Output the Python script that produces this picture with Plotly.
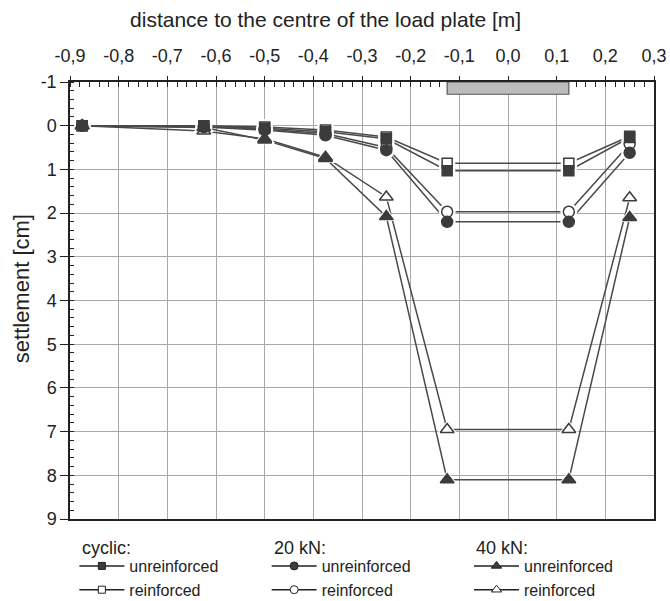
import plotly.graph_objects as go

# ---- data ----
distance = [-0.875, -0.625, -0.5, -0.375, -0.25, -0.125, 0.125, 0.25]
cyclic_unreinforced = [0.0, 0.02, 0.06, 0.14, 0.30, 1.03, 1.03, 0.27]
cyclic_reinforced = [0.0, 0.0, 0.03, 0.10, 0.26, 0.86, 0.86, 0.24]
kn20_unreinforced = [0.0, 0.03, 0.10, 0.22, 0.56, 2.20, 2.20, 0.62]
kn20_reinforced = [0.0, 0.02, 0.08, 0.18, 0.50, 1.97, 1.97, 0.42]
kn40_unreinforced = [0.0, 0.04, 0.33, 0.75, 2.08, 8.10, 8.10, 2.10]
kn40_reinforced = [0.0, 0.12, 0.30, 0.72, 1.63, 6.95, 6.95, 1.65]

x_ticks = [-0.9, -0.8, -0.7, -0.6, -0.5, -0.4, -0.3, -0.2, -0.1, 0.0, 0.1, 0.2, 0.3]
x_ticktext = ["-0,9", "-0,8", "-0,7", "-0,6", "-0,5", "-0,4", "-0,3", "-0,2", "-0,1", "0,0", "0,1", "0,2", "0,3"]
y_ticks = [-1, 0, 1, 2, 3, 4, 5, 6, 7, 8, 9]
y_ticktext = ["-1", "0", "1", "2", "3", "4", "5", "6", "7", "8", "9"]
group_titles = ["cyclic:", "20 kN:", "40 kN:"]
plate_x = [-0.125, 0.125]
plate_y = [-1.0, -0.72]

DARK = "#3c3c3c"
LINE = "#4a4a4a"
TXT = "#222"
FONT = "Liberation Sans, Arial, sans-serif"

series = [
    ("unreinforced", cyclic_unreinforced, "square", DARK, 10, "legend"),
    ("reinforced", cyclic_reinforced, "square", "white", 10, "legend"),
    ("unreinforced", kn20_unreinforced, "circle", DARK, 11, "legend2"),
    ("reinforced", kn20_reinforced, "circle", "white", 11, "legend2"),
    ("unreinforced", kn40_unreinforced, "triangle-up", DARK, 12, "legend3"),
    ("reinforced", kn40_reinforced, "triangle-up", "white", 12, "legend3"),
]
# draw open markers first, filled ones on top
draw_order = [s for s in series if s[3] == "white"] + [s for s in series if s[3] != "white"]

fig = go.Figure()

# pass 1: connecting lines
for name, vals, sym, fill, size, lg in series:
    fig.add_trace(go.Scatter(x=distance, y=vals, mode="lines",
                             line=dict(color=LINE, width=1.5),
                             showlegend=False, hoverinfo="skip"))
# pass 2: white halos
for name, vals, sym, fill, size, lg in series:
    fig.add_trace(go.Scatter(x=distance, y=vals, mode="markers",
                             marker=dict(symbol=sym, size=size + 6, color="white",
                                         line=dict(width=0)),
                             showlegend=False, hoverinfo="skip"))
# pass 3: markers
for name, vals, sym, fill, size, lg in draw_order:
    fig.add_trace(go.Scatter(x=distance, y=vals, mode="markers",
                             marker=dict(symbol=sym, size=size, color=fill,
                                         line=dict(color=DARK, width=1.5)),
                             showlegend=False))
# legend entries
for name, vals, sym, fill, size, lg in series:
    fig.add_trace(go.Scatter(x=[None], y=[None], mode="lines+markers", name=name,
                             legend=lg,
                             line=dict(color=TXT, width=1.5),
                             marker=dict(symbol=sym, size=size - 3, color=fill,
                                         line=dict(color=TXT, width=1))))

# load plate
fig.add_shape(type="rect", xref="x", yref="y",
              x0=plate_x[0], x1=plate_x[1], y0=plate_y[0], y1=plate_y[1],
              fillcolor="#bdbdbd", line=dict(color="#555", width=1.2), layer="above")

axis_common = dict(showline=True, linecolor=TXT, linewidth=1.5, mirror=True,
                   gridcolor="#a8a8a8", gridwidth=1.3, zeroline=False,
                   tickcolor=TXT, tickfont=dict(family=FONT, size=18, color=TXT))

fig.update_layout(
    width=670, height=601,
    margin=dict(l=70, r=16, t=82, b=82, autoexpand=False),
    paper_bgcolor="white", plot_bgcolor="white",
    font=dict(family=FONT, color=TXT),
    title=dict(text="distance to the centre of the load plate [m]",
               x=0.486, xanchor="center", y=0.98, yanchor="top",
               font=dict(family=FONT, size=21, color=TXT)),
    xaxis=dict(side="top", range=[-0.9, 0.3], tickmode="array", tickvals=x_ticks,
               ticktext=x_ticktext, ticks="outside", ticklen=4, tickwidth=1.2,
               ticklabelstandoff=7,
               minor=dict(tick0=-0.9, dtick=0.02, ticks="inside", ticklen=5,
                          tickwidth=1, tickcolor=TXT, showgrid=False),
               **axis_common),
    yaxis=dict(range=[9, -1], tickmode="array", tickvals=y_ticks, ticktext=y_ticktext,
               ticks="outside", ticklen=8, tickwidth=1.2,
               minor=dict(tick0=-1, dtick=0.2, ticks="inside", ticklen=4,
                          tickwidth=1, tickcolor=TXT, showgrid=False),
               **axis_common),
    xaxis2=dict(overlaying="x", side="top", range=[-0.9, 0.3], tickmode="array",
                tickvals=x_ticks, ticks="inside", ticklen=5, tickwidth=1.2,
                tickcolor=TXT, showticklabels=False, showgrid=False,
                zeroline=False, showline=False),
    yaxis2=dict(overlaying="y", side="left", range=[9, -1], tickmode="array",
                tickvals=y_ticks, ticks="inside", ticklen=4, tickwidth=1.2,
                tickcolor=TXT, showticklabels=False, showgrid=False,
                zeroline=False, showline=False),
)

# y-axis title
fig.add_annotation(text="settlement [cm]", xref="paper", yref="paper",
                   x=-0.084, y=0.528, xanchor="center", yanchor="middle",
                   textangle=-90, showarrow=False,
                   font=dict(family=FONT, size=22, color=TXT))

legend_common = dict(orientation="v", xref="container", yref="container",
                     yanchor="top", y=0.0865, xanchor="left",
                     bgcolor="rgba(0,0,0,0)", tracegroupgap=0, itemwidth=45,
                     font=dict(family=FONT, size=16, color=TXT))
legend_x = [0.111, 0.398, 0.700]
fig.update_layout(
    legend=dict(x=legend_x[0], **legend_common),
    legend2=dict(x=legend_x[1], **legend_common),
    legend3=dict(x=legend_x[2], **legend_common),
)

# group headers of the legend
header_x = [0.017, 0.346, 0.691]
for gx, gt in zip(header_x, group_titles):
    fig.add_annotation(text=gt, xref="paper", yref="paper", x=gx, y=-0.066,
                       xanchor="left", yanchor="middle", showarrow=False,
                       font=dict(family=FONT, size=18, color=TXT))

# dummy trace to activate overlay axes
fig.add_trace(go.Scatter(x=[None], y=[None], xaxis="x2", yaxis="y2", showlegend=False))

fig.write_html("out.html")
